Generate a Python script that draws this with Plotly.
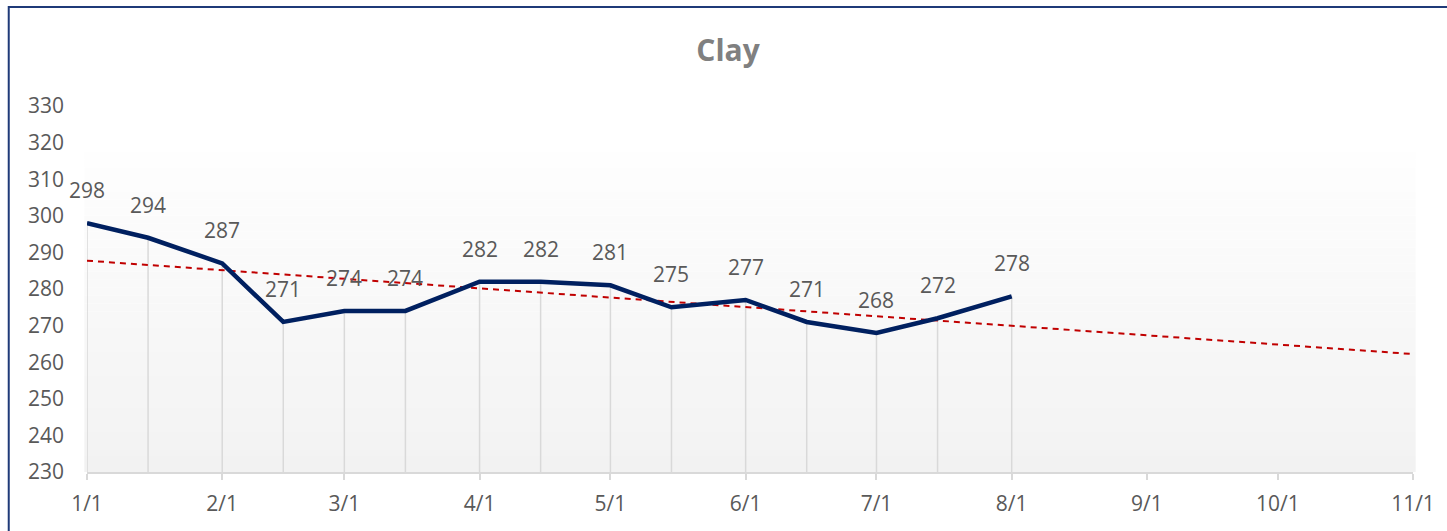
import numpy as np
import pandas as pd
import plotly.graph_objects as go

# ---- data ----
dates = ["2019-01-01", "2019-01-15", "2019-02-01", "2019-02-15", "2019-03-01",
         "2019-03-15", "2019-04-01", "2019-04-15", "2019-05-01", "2019-05-15",
         "2019-06-01", "2019-06-15", "2019-07-01", "2019-07-15", "2019-08-01"]
values = [298, 294, 287, 271, 274, 274, 282, 282, 281, 275, 277, 271, 268, 272, 278]
title_text = "Clay"
x_start, x_end = "2019-01-01", "2019-11-01"
y_min, y_max = 230, 330

# ---- layout constants (pixels) ----
W, H = 1447, 531
PL, PR, PT, PB = 87, 1417, 106, 472  # plot area edges

dts = pd.to_datetime(dates)
t0 = pd.Timestamp(x_start)
days = np.array([(d - t0).days for d in dts], dtype=float)
slope, intercept = np.polyfit(days, np.array(values, dtype=float), 1)
end_days = (pd.Timestamp(x_end) - t0).days
trend_x = [x_start, x_end]
trend_y = [intercept, intercept + slope * end_days]

fig = go.Figure()

# drop lines
dx, dy = [], []
for d, v in zip(dates, values):
    dx += [d, d, None]
    dy += [y_min, v, None]
fig.add_trace(go.Scatter(x=dx, y=dy, mode="lines",
                         line=dict(color="#d9d9d9", width=1.5),
                         hoverinfo="skip", showlegend=False))

# trend line
fig.add_trace(go.Scatter(x=trend_x, y=trend_y, mode="lines",
                         line=dict(color="#c00000", width=2, dash="6px,5px"),
                         hoverinfo="skip", showlegend=False))

# main series
fig.add_trace(go.Scatter(x=dates, y=values, mode="lines",
                         line=dict(color="#002060", width=4.5),
                         showlegend=False))

# data labels
annotations = []
for d, v in zip(dates, values):
    annotations.append(dict(x=d, y=v, xref="x", yref="y", text=str(v),
                            showarrow=False, yshift=33, yanchor="middle",
                            font=dict(family="Open Sans", size=21, color="#595959")))

# gradient background bands
shapes = []
g_top, g_bot = 317.5, y_min
n = 40
for i in range(n):
    y0 = g_bot + (g_top - g_bot) * i / n
    y1 = g_bot + (g_top - g_bot) * (i + 1) / n
    f = (i + 0.5) / n
    c = int(round(242 + (254 - 242) * f))
    shapes.append(dict(type="rect", xref="paper", yref="y", x0=-0.002, x1=1.002,
                       y0=y0, y1=y1, fillcolor=f"rgb({c},{c},{c})",
                       line=dict(width=0), layer="below"))

# outer border
pw, ph = PR - PL, PB - PT
def px_x(p):
    return (p - PL) / pw
def px_y(p):
    return (PB - p) / ph
shapes.append(dict(type="rect", xref="paper", yref="paper",
                   x0=px_x(8.5), x1=px_x(1470), y0=px_y(560), y1=px_y(7),
                   line=dict(color="#1f3a78", width=2), fillcolor="rgba(0,0,0,0)"))

fig.update_layout(
    width=W, height=H,
    margin=dict(l=PL, r=W - PR, t=PT, b=H - PB, pad=0),
    paper_bgcolor="white", plot_bgcolor="rgba(0,0,0,0)",
    title=dict(text=f"<b>{title_text}</b>", x=(728) / W, xanchor="center",
               y=1 - 50 / H, yanchor="middle",
               font=dict(family="Open Sans", size=30, color="#808080")),
    font=dict(family="Open Sans", size=21, color="#595959"),
    shapes=shapes, annotations=annotations,
    xaxis=dict(type="date", range=[x_start, x_end], dtick="M1",
               tick0=x_start, tickformat="%-m/%-d",
               showgrid=False, zeroline=False,
               showline=True, linecolor="#d9d9d9", linewidth=1.5,
               ticks="outside", ticklen=6, tickcolor="#d9d9d9", tickwidth=1.5,
               ticklabelstandoff=6,
               tickfont=dict(family="Open Sans", size=21, color="#595959")),
    yaxis=dict(range=[y_min, y_max], dtick=10, tick0=y_min,
               showgrid=False, zeroline=False, showline=False,
               ticks="", ticklabelstandoff=22,
               tickfont=dict(family="Open Sans", size=21, color="#595959")),
)

fig.write_html("out.html", config={"displayModeBar": False},
               post_script="document.body.style.margin='0';document.body.style.overflow='hidden';")
